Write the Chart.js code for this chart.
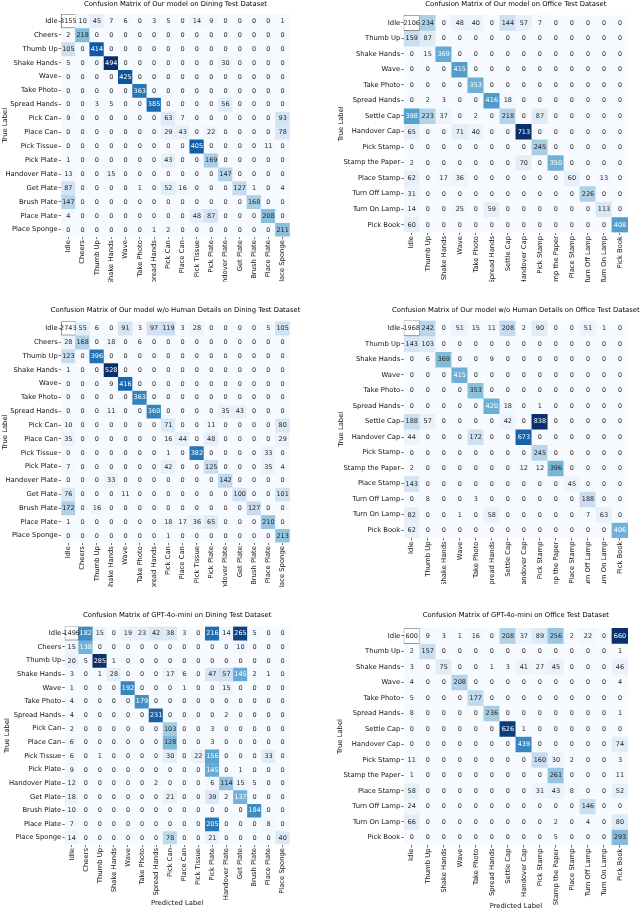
<!DOCTYPE html>
<html><head><meta charset="utf-8">
<script src="https://cdn.jsdelivr.net/npm/chart.js@4.4.1/dist/chart.umd.min.js"></script>
<style>
html,body{margin:0;padding:0;background:#fff;overflow:hidden;}
body{width:640px;height:911px;position:relative;}
.p{position:absolute;}
canvas{display:block;}
</style></head><body>
<div class="p" id="w1"><canvas id="c1"></canvas></div>
<div class="p" id="w2"><canvas id="c2"></canvas></div>
<div class="p" id="w3"><canvas id="c3"></canvas></div>
<div class="p" id="w4"><canvas id="c4"></canvas></div>
<div class="p" id="w5"><canvas id="c5"></canvas></div>
<div class="p" id="w6"><canvas id="c6"></canvas></div>
<script>
// ---------- categories ----------
const diningLabels = ['Idle','Cheers','Thumb Up','Shake Hands','Wave','Take Photo','Spread Hands','Pick Can','Place Can','Pick Tissue','Pick Plate','Handover Plate','Get Plate','Brush Plate','Place Plate','Place Sponge'];
const officeLabels = ['Idle','Thumb Up','Shake Hands','Wave','Take Photo','Spread Hands','Settle Cap','Handover Cap','Pick Stamp','Stamp the Paper','Place Stamp','Turn Off Lamp','Turn On Lamp','Pick Book'];

// ---------- values (rows = true label, cols = predicted label) ----------
const oursDining = [
 [3155,10,45,7,6,0,3,5,0,14,9,0,0,0,0,1],
 [2,218,0,0,0,0,0,0,0,0,0,0,0,0,0,0],
 [105,0,414,0,0,0,0,0,0,0,0,0,0,0,0,0],
 [5,0,0,494,0,0,0,0,0,0,0,30,0,0,0,0],
 [0,0,0,0,425,0,0,0,0,0,0,0,0,0,0,0],
 [0,0,0,0,0,363,0,0,0,0,0,0,0,0,0,0],
 [0,0,3,5,0,0,385,0,0,0,0,56,0,0,0,0],
 [9,0,0,0,0,0,0,63,7,0,0,0,0,0,0,93],
 [0,0,0,0,0,0,0,29,43,0,22,0,0,0,0,78],
 [0,0,0,0,0,0,0,0,0,405,0,0,0,0,11,0],
 [1,0,0,0,0,0,0,43,0,0,169,0,0,0,0,0],
 [13,0,0,15,0,0,0,0,0,0,0,147,0,0,0,0],
 [87,0,0,0,0,1,0,52,16,0,0,0,127,1,0,4],
 [147,0,0,0,0,0,0,0,0,0,0,0,0,168,0,0],
 [4,0,0,0,0,0,0,0,0,48,87,0,0,0,208,0],
 [0,0,0,0,0,0,1,2,0,0,0,0,0,0,0,211]
];
const oursOffice = [
 [2106,234,0,48,40,0,144,57,7,0,0,0,0,0],
 [159,87,0,0,0,0,0,0,0,0,0,0,0,0],
 [0,15,369,0,0,0,0,0,0,0,0,0,0,0],
 [0,0,0,415,0,0,0,0,0,0,0,0,0,0],
 [0,0,0,0,353,0,0,0,0,0,0,0,0,0],
 [0,2,3,0,0,416,18,0,0,0,0,0,0,0],
 [398,223,37,0,2,0,218,0,87,0,0,0,0,0],
 [65,0,0,71,40,0,0,713,0,0,0,0,0,0],
 [0,0,0,0,0,0,0,0,245,0,0,0,0,0],
 [2,0,0,0,0,0,0,70,0,350,0,0,0,0],
 [62,0,17,36,0,0,0,0,0,0,60,0,13,0],
 [31,0,0,0,0,0,0,0,0,0,0,226,0,0],
 [14,0,0,25,0,59,0,0,0,0,0,0,113,0],
 [60,0,0,0,0,0,0,0,0,0,0,0,0,408]
];
const noHumanDining = [
 [2743,55,6,0,91,3,97,119,3,28,0,0,0,0,5,105],
 [28,168,0,18,0,6,0,0,0,0,0,0,0,0,0,0],
 [123,0,396,0,0,0,0,0,0,0,0,0,0,0,0,0],
 [1,0,0,528,0,0,0,0,0,0,0,0,0,0,0,0],
 [0,0,0,9,416,0,0,0,0,0,0,0,0,0,0,0],
 [0,0,0,0,0,363,0,0,0,0,0,0,0,0,0,0],
 [0,0,0,11,0,0,360,0,0,0,0,35,43,0,0,0],
 [10,0,0,0,0,0,0,71,0,0,11,0,0,0,0,80],
 [35,0,0,0,0,0,0,16,44,0,48,0,0,0,0,29],
 [0,0,0,0,0,0,0,1,0,382,0,0,0,0,33,0],
 [7,0,0,0,0,0,0,42,0,0,125,0,0,0,35,4],
 [0,0,0,33,0,0,0,0,0,0,0,142,0,0,0,0],
 [76,0,0,0,11,0,0,0,0,0,0,0,100,0,0,101],
 [172,0,16,0,0,0,0,0,0,0,0,0,0,127,0,0],
 [1,0,0,0,0,0,0,18,17,36,65,0,0,0,210,0],
 [0,0,0,0,0,0,0,1,0,0,0,0,0,0,0,213]
];
const noHumanOffice = [
 [1968,242,0,51,15,11,208,2,90,0,0,51,1,0],
 [143,103,0,0,0,0,0,0,0,0,0,0,0,0],
 [0,6,369,0,0,9,0,0,0,0,0,0,0,0],
 [0,0,0,415,0,0,0,0,0,0,0,0,0,0],
 [0,0,0,0,353,0,0,0,0,0,0,0,0,0],
 [0,0,0,0,0,420,18,0,1,0,0,0,0,0],
 [188,57,0,0,0,0,42,0,838,0,0,0,0,0],
 [44,0,0,0,172,0,0,673,0,0,0,0,0,0],
 [0,0,0,0,0,0,0,0,245,0,0,0,0,0],
 [2,0,0,0,0,0,0,12,12,396,0,0,0,0],
 [143,0,0,0,0,0,0,0,0,0,45,0,0,0],
 [0,8,0,0,3,0,0,0,0,0,0,188,0,0],
 [82,0,0,1,0,58,0,0,0,0,0,7,63,0],
 [62,0,0,0,0,0,0,0,0,0,0,0,0,406]
];
const gptDining = [
 [1496,182,15,0,19,23,42,38,3,0,216,14,265,5,0,0],
 [15,138,0,0,0,0,0,0,0,0,0,0,10,0,0,0],
 [20,5,285,1,0,0,0,0,0,0,0,0,0,0,0,0],
 [3,0,1,28,0,0,0,17,6,0,47,57,145,2,1,0],
 [1,0,0,0,192,0,0,0,1,0,0,15,0,0,0,0],
 [4,0,0,0,0,179,0,0,0,0,0,0,0,0,0,0],
 [4,0,0,0,0,0,231,0,0,0,0,2,0,0,0,0],
 [2,0,0,0,0,0,0,103,0,0,3,0,0,0,0,0],
 [6,0,0,0,0,0,0,128,0,0,3,0,0,0,0,0],
 [6,0,1,0,0,0,0,30,0,22,156,0,0,0,33,0],
 [9,0,0,0,0,0,0,0,0,0,145,0,1,0,0,0],
 [12,0,0,0,0,0,2,0,0,0,6,114,15,5,0,0],
 [18,0,0,0,0,0,0,21,0,0,39,2,137,0,0,0],
 [10,0,0,0,0,0,0,0,0,0,0,0,0,184,0,0],
 [7,0,0,0,0,0,0,0,0,0,205,0,0,0,8,0],
 [14,0,0,0,0,0,0,78,0,0,21,0,0,0,0,40]
];
const gptOffice = [
 [600,9,3,1,16,0,208,37,89,256,2,22,0,660],
 [2,157,0,0,0,0,0,0,0,0,0,0,0,1],
 [3,0,75,0,0,1,3,41,27,45,0,0,0,46],
 [4,0,0,208,0,0,0,0,0,0,0,0,0,4],
 [5,0,0,0,177,0,0,0,0,0,0,0,0,0],
 [8,0,0,0,0,236,0,0,0,0,0,0,0,1],
 [0,0,0,0,0,0,626,1,0,0,0,0,0,0],
 [0,0,0,0,0,0,0,439,0,0,0,0,0,74],
 [11,0,0,0,0,0,0,0,160,30,2,0,0,3],
 [1,0,0,0,0,0,0,0,0,261,0,0,0,11],
 [58,0,0,0,0,0,0,0,31,43,8,0,0,52],
 [24,0,0,0,0,0,0,0,0,0,0,146,0,0],
 [66,0,0,0,0,0,0,0,0,2,0,4,0,80],
 [0,0,0,0,0,0,0,0,0,5,0,0,0,293]
];

// ---------- colour map (matplotlib Blues) ----------
const BLUES = ['#f7fbff','#deebf7','#c6dbef','#9ecae1','#6baed6','#4292c6','#2171b5','#08519c','#08306b'];
function hexToRgb(h){return [parseInt(h.slice(1,3),16),parseInt(h.slice(3,5),16),parseInt(h.slice(5,7),16)];}
const BLUES_RGB = BLUES.map(hexToRgb);
function blues(t){
  t=Math.max(0,Math.min(1,t)); const s=t*8; const i=Math.min(7,Math.floor(s)); const f=s-i;
  const a=BLUES_RGB[i], b=BLUES_RGB[i+1];
  return [0,1,2].map(k=>a[k]+(b[k]-a[k])*f);
}
function lum(rgb){
  const c=rgb.map(v=>{v/=255;return v<=0.03928?v/12.92:Math.pow((v+0.055)/1.055,2.4);});
  return 0.2126*c[0]+0.7152*c[1]+0.0722*c[2];
}
const css = rgb => `rgb(${rgb.map(v=>Math.round(v)).join(',')})`;

const FONT = 'DejaVu Sans';
const FS = 6.8;

function makePanel(p){
  const w=document.getElementById(p.wrap);
  const [L,T,W,H]=p.box;
  Object.assign(w.style,{left:L+'px',top:T+'px',width:W+'px',height:H+'px'});
  const cv=document.getElementById(p.canvas);
  cv.width=W; cv.height=H; cv.style.width=W+'px'; cv.style.height=H+'px';
  const n=p.labels.length, M=p.matrix;
  let vmax=0;
  M.forEach((row,r)=>row.forEach((v,c)=>{ if(!(r===0&&c===0)) vmax=Math.max(vmax,v); }));
  const isIdle=(r,c)=>r===0&&c===0;
  const fill=(r,c)=> isIdle(r,c)? [255,255,255] : blues(M[r][c]/vmax);

  const datasets=M.map((row,r)=>({
    label:p.labels[r],
    data:row.map(()=>[r-0.5,r+0.5]),
    grouped:false, barPercentage:1, categoryPercentage:1,
    backgroundColor:ctx=>css(fill(r,ctx.dataIndex)),
    borderColor:'#4a4a4a',
    borderWidth:ctx=>isIdle(r,ctx.dataIndex)?0.8:0,
    borderSkipped:false
  }));

  const annot={
    id:'annot',
    afterDatasetsDraw(chart){
      const ctx=chart.ctx, xs=chart.scales.x, ys=chart.scales.y;
      ctx.save();
      ctx.font=`${p.annSize||6.5}px "${FONT}"`;
      ctx.textAlign='center'; ctx.textBaseline='middle';
      M.forEach((row,r)=>row.forEach((v,c)=>{
        const col=fill(r,c);
        ctx.fillStyle = lum(col)>0.408 ? '#262626' : '#ffffff';
        ctx.fillText(String(v), xs.getPixelForValue(c), ys.getPixelForValue(r)+0.3);
      }));
      ctx.restore();
    },
    afterDraw(chart){
      const ctx=chart.ctx, a=chart.chartArea;
      ctx.save();
      ctx.font=`${FS}px "${FONT}"`; ctx.fillStyle='#000';
      ctx.textAlign='center'; ctx.textBaseline='middle';
      ctx.fillText(p.title,(a.left+a.right)/2,p.titleY-T);
      ctx.restore();
    }
  };

  const tickFont={family:FONT,size:FS};
  new Chart(cv,{
    type:'bar',
    data:{labels:p.labels,datasets},
    options:{
      responsive:false, animation:false, events:[],
      layout:{padding:{top:p.mat.t-T,right:L+W-p.mat.r,left:0,bottom:0}},
      plugins:{legend:{display:false},tooltip:{enabled:false},title:{display:false}},
      scales:{
        x:{
          type:'category', offset:true,
          grid:{offset:false,drawOnChartArea:false,drawTicks:true,tickLength:2.5,color:'#333',lineWidth:0.7},
          border:{display:false},
          ticks:{autoSkip:false,minRotation:90,maxRotation:90,padding:1,font:tickFont,color:'#111'},
          afterFit:s=>{s.height=(T+H)-p.mat.b;},
          title:{display:!!p.xTitle,text:'Predicted Label',font:tickFont,color:'#111',
                 padding:{top:0,bottom:p.xTitle?((T+H)-p.xTitle-FS*0.6):0}}
        },
        y:{
          type:'linear', min:-0.5, max:n-0.5, reverse:true,
          afterBuildTicks:s=>{s.ticks=p.labels.map((_,i)=>({value:i}));},
          grid:{drawOnChartArea:false,drawTicks:true,tickLength:2.5,color:'#333',lineWidth:0.7},
          border:{display:false},
          ticks:{autoSkip:false,padding:1,font:tickFont,color:'#111',callback:v=>p.labels[v]},
          afterFit:s=>{s.width=p.mat.l-L;},
          title:{display:true,text:'True Label',font:tickFont,color:'#111',
                 padding:{top:(p.yTitleX-L)-FS*0.6,bottom:0}}
        }
      }
    },
    plugins:[annot]
  });
}

makePanel({wrap:'w1',canvas:'c1',box:[0,0,320,282],labels:diningLabels,matrix:oursDining,
  title:'Confusion Matrix of Our model on Dining Test Dataset',titleY:4.7,
  mat:{l:61.2,r:289.8,t:14.1,b:236.6},yTitleX:5});
makePanel({wrap:'w2',canvas:'c2',box:[320,0,320,282],labels:officeLabels,matrix:oursOffice,
  title:'Confusion Matrix of Our model on Office Test Dataset',titleY:4.7,
  mat:{l:403.7,r:628,t:15,b:232.5},yTitleX:341.5});
makePanel({wrap:'w3',canvas:'c3',box:[0,282,320,305],labels:diningLabels,matrix:noHumanDining,
  title:'Confusion Matrix of Our model w/o Human Details on Dining Test Dataset',titleY:310,
  mat:{l:61.2,r:289.8,t:321.4,b:542.6},yTitleX:5});
makePanel({wrap:'w4',canvas:'c4',box:[320,282,320,302],labels:officeLabels,matrix:noHumanOffice,
  title:'Confusion Matrix of Our model w/o Human Details on Office Test Dataset',titleY:310,
  mat:{l:403.7,r:628,t:320.5,b:538},yTitleX:341.5});
makePanel({wrap:'w5',canvas:'c5',box:[0,587,320,324],labels:diningLabels,matrix:gptDining,
  title:'Confusion Matrix of GPT-4o-mini on Dining Test Dataset',titleY:615.7,
  mat:{l:64.7,r:289.7,t:626.5,b:844.5},yTitleX:7,xTitle:903});
makePanel({wrap:'w6',canvas:'c6',box:[320,584,320,327],labels:officeLabels,matrix:gptOffice,
  title:'Confusion Matrix of GPT-4o-mini on Office Test Dataset',titleY:615.7,
  mat:{l:403.7,r:628,t:628,b:845},yTitleX:340,xTitle:906.5});
</script>
</body></html>
